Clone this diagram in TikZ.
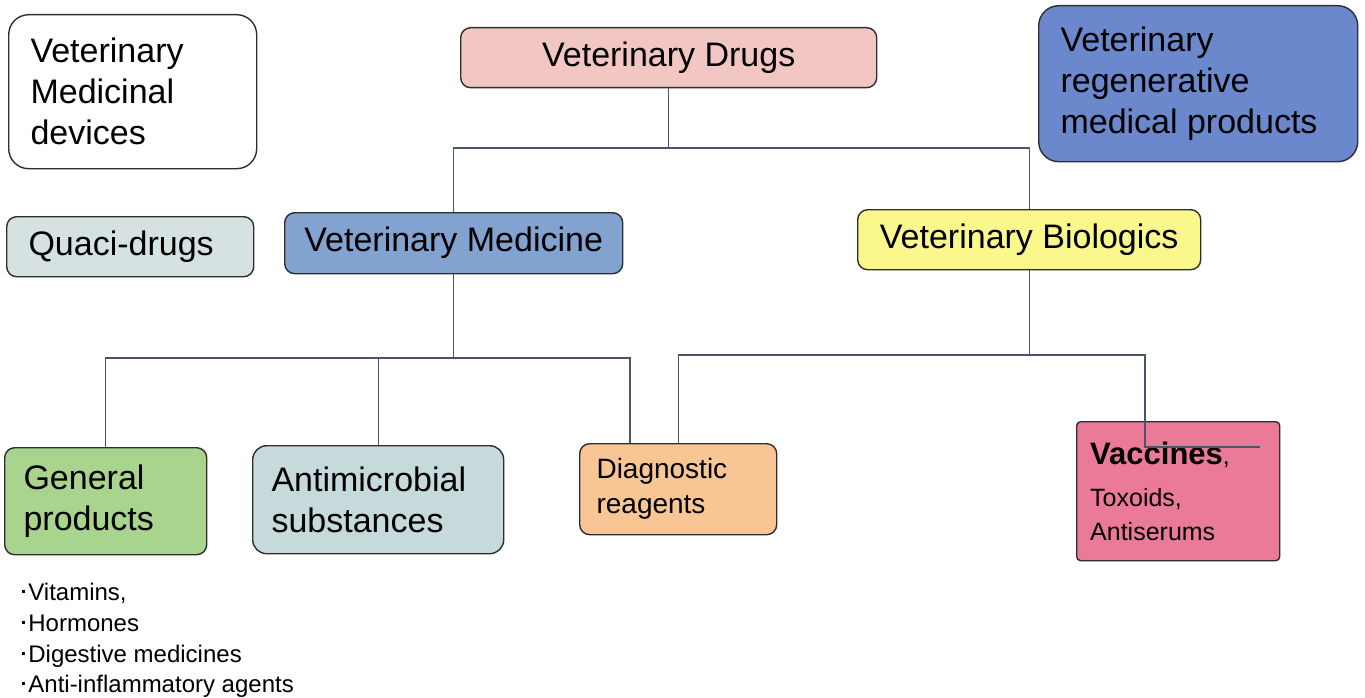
\documentclass[tikz,border=0pt]{standalone}
\usepackage{fontspec}
\setmainfont{Liberation Sans}
\usetikzlibrary{calc}

\definecolor{drugpink}{RGB}{242,198,194}
\definecolor{regenblue}{RGB}{108,136,204}
\definecolor{quacigray}{RGB}{214,226,226}
\definecolor{medblue}{RGB}{130,162,208}
\definecolor{bioyellow}{RGB}{250,248,140}
\definecolor{gengreen}{RGB}{168,212,142}
\definecolor{antiteal}{RGB}{198,218,220}
\definecolor{diagorange}{RGB}{247,198,148}
\definecolor{vaccred}{RGB}{234,122,152}
\definecolor{edgegray}{RGB}{45,45,50}
\definecolor{linkgray}{RGB}{75,85,105}

% small square bullet for the example list
\newcommand{\sqbullet}{\rule[0.28em]{3.2pt}{3.2pt}\kern3pt}

\tikzset{
  box/.style={draw=edgegray, line width=1.4pt, rounded corners=10pt,
    inner sep=0pt, anchor=north west},
  big/.style={font=\fontsize{34}{41}\selectfont},
  lineleft/.style={anchor=base west, inner sep=0pt},
  link/.style={draw=linkgray, line width=1.2pt},
}

\begin{document}
\begin{tikzpicture}[x=1pt, y=-1pt]
\useasboundingbox (0,0) rectangle (1365,698);

% top row
\node[box, fill=white, rounded corners=20pt, minimum width=248, minimum height=154] (devices) at (8,14) {};
\node[big, anchor=west, align=left] (devices-text) at ([xshift=19pt]devices.west) {Veterinary\\Medicinal\\devices};

\node[box, fill=drugpink, minimum width=416, minimum height=60] (drugs) at (460,27) {};
\node[big, anchor=center] (drugs-text) at (drugs.center) {Veterinary Drugs};

\node[box, fill=regenblue, rounded corners=20pt, minimum width=319, minimum height=156] (regen) at (1038,5) {};
\node[big, anchor=west, align=left] (regen-text) at ([xshift=19pt]regen.west) {Veterinary\\regenerative\\medical products};

% middle row
\node[box, fill=quacigray, minimum width=247, minimum height=60] (quaci) at (6,216) {};
\node[big, anchor=west] (quaci-text) at ([xshift=19pt]quaci.west) {Quaci-drugs};

\node[box, fill=medblue, minimum width=338, minimum height=61] (med) at (284,212) {};
\node[big, anchor=center] (med-text) at (med.center) {Veterinary Medicine};

\node[box, fill=bioyellow, minimum width=343, minimum height=60] (bio) at (857,209) {};
\node[big, anchor=center] (bio-text) at (bio.center) {Veterinary Biologics};

% bottom row
\node[box, fill=gengreen, minimum width=202, minimum height=107] (gen) at (4,447) {};
\node[big, anchor=west, align=left] (gen-text) at ([xshift=16pt]gen.west) {General\\products};

\node[box, fill=antiteal, rounded corners=14pt, minimum width=251, minimum height=108] (anti) at (252,445) {};
\node[big, anchor=west, align=left] (anti-text) at ([xshift=16pt]anti.west) {Antimicrobial\\substances};

\node[box, fill=diagorange, minimum width=197, minimum height=91] (diag) at (579,443) {};
\node[font=\fontsize{28}{35}\selectfont, anchor=west, align=left] (diag-text) at ([xshift=14pt]diag.west) {Diagnostic\\reagents};

\node[box, fill=vaccred, rounded corners=4pt, minimum width=203, minimum height=139] (vacc) at (1076,421) {};
\node[lineleft] (vacc-l1) at (1090,464)
  {{\fontsize{31}{36}\selectfont\bfseries Vaccines}{\fontsize{25}{30}\selectfont,}};
\node[lineleft, font=\fontsize{25}{30}\selectfont] (vacc-l2) at (1090,506) {Toxoids,};
\node[lineleft, font=\fontsize{25}{30}\selectfont] (vacc-l3) at (1090,540) {Antiserums};

% examples under general products
\begin{scope}[every node/.style={lineleft, font=\fontsize{24}{30}\selectfont}]
  \node (ex1) at (22,600) {\sqbullet Vitamins,};
  \node (ex2) at (22,631) {\sqbullet Hormones};
  \node (ex3) at (22,662) {\sqbullet Digestive medicines};
  \node (ex4) at (22,692) {\sqbullet Anti-inflammatory agents};
\end{scope}

% connectors
\coordinate (j1) at (drugs.south |- 0,148);
\draw[link] (drugs.south) -- (j1);
\draw[link] (j1) -| (med.north);
\draw[link] (j1) -| (bio.north);

\coordinate (j2) at (med.south |- 0,358);
\draw[link] (med.south) -- (j2);
\draw[link] (j2) -| (gen.north);
\draw[link] (j2) -| (anti.north);
\coordinate (diagtap) at ($(diag.north west)+(51,0)$);
\draw[link] (j2) -| (diagtap);

\coordinate (j3) at (bio.south |- 0,355);
\draw[link] (bio.south) -- (j3);
\draw[link] (j3) -| (diag.north);
\coordinate (vacctap) at (1145,447);
\coordinate (vaccend) at (1260,447);
\draw[link] (j3) -| (vacctap) -- (vaccend);

\end{tikzpicture}
\end{document}
